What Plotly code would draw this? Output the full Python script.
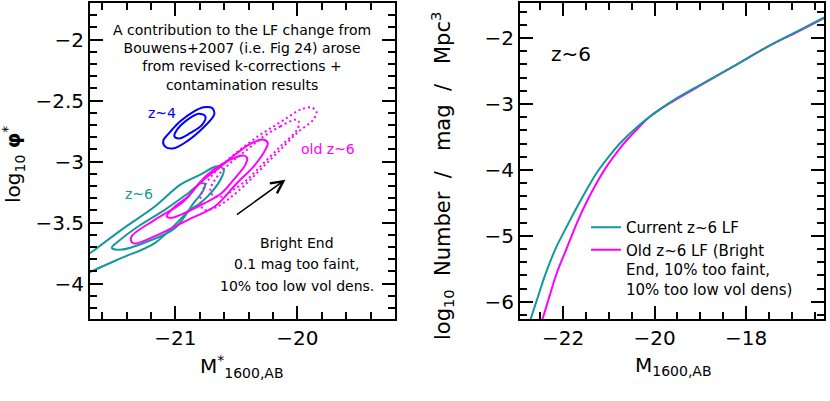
import plotly.graph_objects as go

# ---- left panel: confidence contours (M*, log10 phi*)
z4_out_M = [-20.77, -20.85, -20.96, -21.05, -21.10, -21.08, -21.01, -20.90, -20.77, -20.69, -20.68, -20.70, -20.77]
z4_out_phi = [-2.555, -2.59, -2.67, -2.765, -2.83, -2.88, -2.89, -2.83, -2.72, -2.63, -2.60, -2.56, -2.555]
z4_in_M = [-20.81, -20.90, -20.986, -21.008, -20.97, -20.877, -20.78, -20.754, -20.81]
z4_in_phi = [-2.607, -2.656, -2.738, -2.793, -2.81, -2.765, -2.697, -2.629, -2.607]

z6_out_M = [-20.658, -20.795, -20.959, -21.166, -21.44, -21.658, -21.78, -21.78, -21.658, -21.44, -21.166, -20.877, -20.795, -20.686, -20.617, -20.604, -20.658]
z6_out_phi = [-3.039, -3.107, -3.189, -3.366, -3.557, -3.721, -3.82, -3.934, -3.885, -3.789, -3.666, -3.393, -3.339, -3.230, -3.120, -3.066, -3.039]
z6_in_M = [-20.784, -20.893, -21.084, -21.303, -21.467, -21.522, -21.44, -21.221, -21.002, -20.85, -20.795, -20.768, -20.757, -20.784]
z6_in_phi = [-3.175, -3.257, -3.393, -3.530, -3.653, -3.707, -3.721, -3.653, -3.543, -3.339, -3.270, -3.230, -3.189, -3.175]

mag_out_M = [-20.276, -20.371, -20.494, -20.631, -20.795, -20.948, -21.166, -21.358, -21.36, -21.33, -21.139, -20.893, -20.675, -20.494, -20.358, -20.262, -20.243, -20.276]
mag_out_phi = [-2.820, -2.847, -2.929, -3.041, -3.172, -3.339, -3.475, -3.612, -3.656, -3.672, -3.598, -3.475, -3.366, -3.175, -3.039, -2.902, -2.847, -2.820]
mag_in_M = [-20.440, -20.549, -20.686, -20.795, -20.893, -21.002, -21.071, -21.030, -20.893, -20.757, -20.620, -20.522, -20.426, -20.412, -20.440]
mag_in_phi = [-2.951, -2.984, -3.066, -3.164, -3.284, -3.366, -3.448, -3.461, -3.407, -3.339, -3.257, -3.148, -3.025, -2.970, -2.951]

old_out_M = [-19.885, -19.975, -20.082, -20.197, -20.303, -20.426, -20.549, -20.672, -20.754, -20.795, -20.770, -20.672, -20.549, -20.410, -20.279, -20.139, -20.000, -19.869, -19.844, -19.885]
old_out_phi = [-2.557, -2.574, -2.639, -2.713, -2.779, -2.869, -2.967, -3.082, -3.189, -3.311, -3.393, -3.377, -3.295, -3.172, -3.041, -2.902, -2.762, -2.656, -2.590, -2.557]
old_in_M = [-20.016, -20.139, -20.276, -20.412, -20.549, -20.658, -20.713, -20.689, -20.604, -20.522, -20.412, -20.276, -20.139, -20.002, -19.989, -20.016]
old_in_phi = [-2.656, -2.711, -2.793, -2.902, -3.011, -3.123, -3.230, -3.279, -3.284, -3.230, -3.148, -3.011, -2.875, -2.738, -2.670, -2.656]

arrow_tail = (-20.508, -3.443)
arrow_tip = (-20.098, -3.148)

# ---- right panel: luminosity functions
cur_M = [-22.75, -22.57, -22.39, -22.16, -21.92, -21.70, -21.50, -21.27, -21.00, -20.76, -20.40, -20.00, -19.60, -19.00, -18.20, -17.50, -16.80, -16.30]
cur_lf = [-6.35, -5.97, -5.59, -5.19, -4.86, -4.57, -4.32, -4.05, -3.80, -3.60, -3.36, -3.14, -2.95, -2.71, -2.40, -2.12, -1.87, -1.69]
old_M = [-22.50, -22.32, -22.14, -21.92, -21.70, -21.48, -21.25, -21.05, -20.80, -20.61, -20.35, -20.10, -19.60, -19.00, -18.20, -17.50, -16.80, -16.30]
old_lf = [-6.38, -5.97, -5.57, -5.19, -4.81, -4.48, -4.18, -3.95, -3.71, -3.55, -3.36, -3.19, -2.96, -2.72, -2.40, -2.12, -1.88, -1.70]

TEAL = '#14999a'
MAG = '#ff00ff'
BLUE = '#0000ff'
FONT = 'DejaVu Sans'
NB = '\u00a0'

fig = go.Figure()

def contour(xs, ys, col, dash='solid'):
    fig.add_trace(go.Scatter(x=xs, y=ys, mode='lines', xaxis='x', yaxis='y',
                             line=dict(color=col, width=2, dash=dash, shape='spline', smoothing=1.0),
                             showlegend=False, hoverinfo='skip'))

contour(z4_out_M, z4_out_phi, BLUE)
contour(z4_in_M, z4_in_phi, BLUE)
contour(z6_out_M, z6_out_phi, TEAL)
contour(z6_in_M, z6_in_phi, TEAL)
contour(mag_out_M, mag_out_phi, MAG)
contour(mag_in_M, mag_in_phi, MAG)
contour(old_out_M, old_out_phi, MAG, dash='2px,3px')
contour(old_in_M, old_in_phi, MAG, dash='2px,3px')

# magenta first so the teal curve sits on top, legend order fixed by legendrank
fig.add_trace(go.Scatter(x=old_M, y=old_lf, mode='lines', xaxis='x2', yaxis='y2',
                         line=dict(color=MAG, width=2, shape='spline'), legendrank=2,
                         name='Old z~6 LF (Bright<br>End, 10% too faint,<br>10% too low vol dens)'))
fig.add_trace(go.Scatter(x=cur_M, y=cur_lf, mode='lines', xaxis='x2', yaxis='y2',
                         line=dict(color=TEAL, width=2, shape='spline'), legendrank=1,
                         name='Current z~6 LF'))


def axis(dom, rng, dtick, mdtick, anchor):
    return dict(domain=dom, range=rng, anchor=anchor, dtick=dtick,
                showline=True, linecolor='black', linewidth=2, mirror='ticks',
                ticks='inside', ticklen=13, tickwidth=2, tickcolor='black',
                showgrid=False, zeroline=False,
                tickfont=dict(family=FONT, size=20, color='black'),
                minor=dict(ticks='inside', ticklen=7, tickwidth=1.5, tickcolor='black',
                           dtick=mdtick, showgrid=False))

W, H = 830, 401
ydom = [(H - 319) / H, (H - 3) / H]
fig.update_layout(
    width=W, height=H, margin=dict(l=0, r=0, t=0, b=0),
    paper_bgcolor='white', plot_bgcolor='white',
    xaxis=axis([90 / W, 395 / W], [-21.7, -19.2], 1, 0.2, 'y'),
    yaxis=axis(ydom, [-4.29, -1.7], 0.5, 0.1, 'x'),
    xaxis2=axis([520 / W, 824 / W], [-22.94, -16.3], 2, 0.5, 'y2'),
    yaxis2=axis(ydom, [-6.26, -1.47], 1, 0.2, 'x2'),
    showlegend=True,
    legend=dict(x=586 / W, y=(H - 211) / H, xanchor='left', yanchor='top',
                bgcolor='rgba(0,0,0,0)', valign='top', traceorder='normal',
                font=dict(family=FONT, size=15, color='black')),
)

def txt(x, y, s, size=14, col='black', **kw):
    fig.add_annotation(x=x / W, y=(H - y) / H, xref='paper', yref='paper', text=s,
                       xanchor='center', yanchor='middle', showarrow=False,
                       font=dict(family=FONT, size=size, color=col), **kw)

txt(242, 57.5, 'A contribution to the LF change from<br>Bouwens+2007 (i.e. Fig 24) arose<br>'
    'from revised k-corrections +<br>contamination results', size=14)
txt(162, 113, 'z~4', col=BLUE)
txt(328, 149, 'old z~6', col=MAG)
txt(139, 194, 'z~6', col=TEAL)
txt(297, 243, 'Bright End')
txt(297, 264, '0.1 mag too faint,')
txt(297, 286, '10% too low vol dens.')
txt(571, 54, 'z~6', size=20)

txt(242, 366, 'M<sup>*</sup><sub>1600,AB</sub>', size=20)
txt(673, 366, 'M<sub>1600,AB</sub>', size=20)
txt(13, 165, 'log<sub>10</sub> <b>φ</b><sup>*</sup>', size=20, textangle=-90)
sep = NB * 2 + '/' + NB * 3
txt(442, 176, 'log<sub>10</sub>' + NB * 2 + 'Number' + sep + 'mag' + sep + 'Mpc<sup>3</sup>',
    size=21, textangle=-90)

fig.add_annotation(x=arrow_tip[0], y=arrow_tip[1], ax=arrow_tail[0], ay=arrow_tail[1],
                   xref='x', yref='y', axref='x', ayref='y', showarrow=True,
                   arrowhead=5, arrowsize=1.6, arrowwidth=1.5, arrowcolor='black', text='')

fig.write_html('out.html', config={'displayModeBar': False},
               post_script="document.body.style.margin='0';")
